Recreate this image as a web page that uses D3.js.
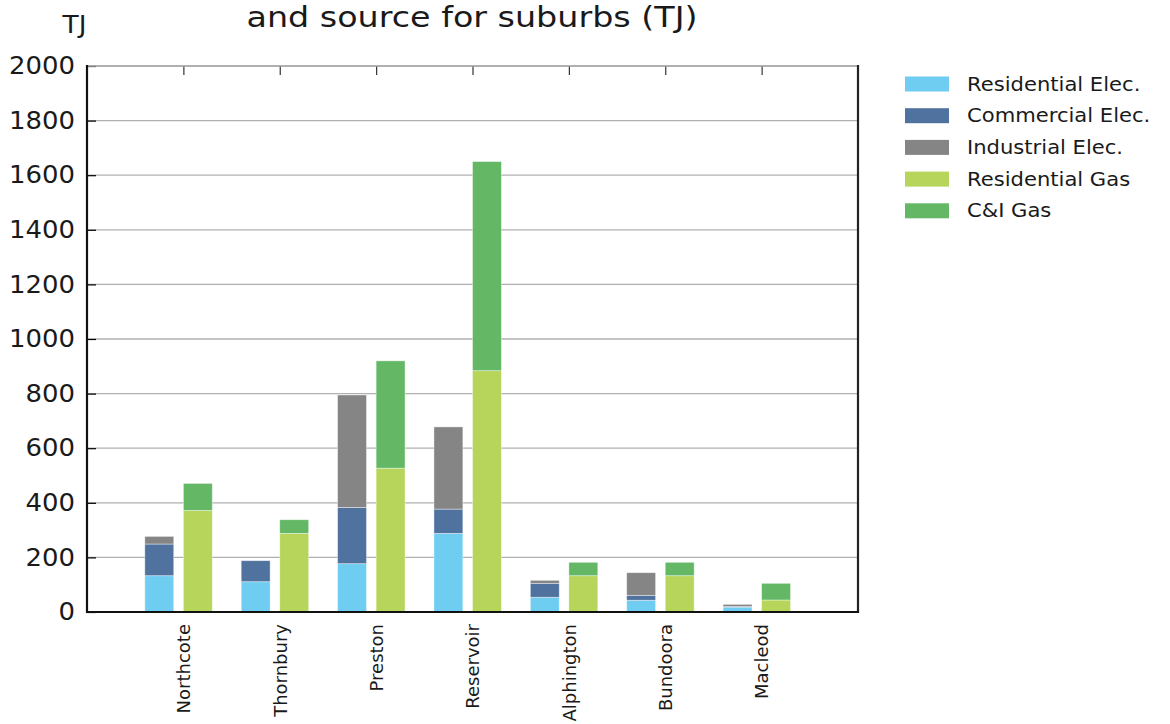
<!DOCTYPE html>
<html>
<head>
<meta charset="utf-8">
<script src="https://cdn.jsdelivr.net/npm/d3@7/dist/d3.min.js"></script>
<style>
  html, body { margin: 0; padding: 0; background: #fff; }
  svg { display: block; font-family: "DejaVu Sans", sans-serif; }
</style>
</head>
<body>
<svg id="chart" width="1170" height="724"></svg>
<script>
const categories = ["Northcote","Thornbury","Preston","Reservoir","Alphington","Bundoora","Macleod"];
const resElec = [133, 111, 177, 288, 54, 43, 18];
const comElec = [116, 77, 206, 89, 51, 18, 2];
const indElec = [28, 0, 412, 301, 11, 83, 8];
const resGas  = [372, 288, 527, 884, 133, 133, 44];
const ciGas   = [99, 50, 393, 766, 49, 49, 61];
const yTicks  = [0, 200, 400, 600, 800, 1000, 1200, 1400, 1600, 1800, 2000];
const seriesNames = ["Residential Elec.", "Commercial Elec.", "Industrial Elec.", "Residential Gas", "C&I Gas"];
const seriesColors = ["#70cdf2", "#50729f", "#858585", "#b6d55a", "#63b765"];

const svg = d3.select("#chart");
const L = 87, R = 858, T = 66, B = 612;

const x = d3.scaleLinear().domain([0, 8]).range([L, R]);
const y = d3.scaleLinear().domain([0, 2000]).range([B, T]);
const barW = 0.3;

function stretch(sel, factor) {
  sel.each(function () {
    const w = this.getComputedTextLength();
    d3.select(this).attr("textLength", w * factor).attr("lengthAdjust", "spacingAndGlyphs");
  });
}

// grid lines
svg.append("g").selectAll("line").data(yTicks).join("line")
  .attr("x1", L).attr("x2", R)
  .attr("y1", d => y(d)).attr("y2", d => y(d))
  .attr("stroke", "#b0b0b0").attr("stroke-width", 1.3);

// bars
const elecStack = categories.map((c, i) => [resElec[i], comElec[i], indElec[i]]);
const gasStack = categories.map((c, i) => [resGas[i], ciGas[i]]);
const rects = [];
categories.forEach((c, i) => {
  let acc = 0;
  elecStack[i].forEach((v, k) => {
    rects.push({x0: i + 1 - 0.4, v0: acc, v1: acc + v, color: seriesColors[k]});
    acc += v;
  });
  acc = 0;
  gasStack[i].forEach((v, k) => {
    rects.push({x0: i + 1, v0: acc, v1: acc + v, color: seriesColors[3 + k]});
    acc += v;
  });
});
svg.append("g").selectAll("rect").data(rects.filter(r => r.v1 > r.v0)).join("rect")
  .attr("x", d => x(d.x0))
  .attr("width", d => x(d.x0 + barW) - x(d.x0))
  .attr("y", d => y(d.v1))
  .attr("height", d => y(d.v0) - y(d.v1))
  .attr("fill", d => d.color)
  .attr("stroke", "#ffffff").attr("stroke-opacity", 0.5).attr("stroke-width", 0.8);

// y axis ticks (inward)
const yAxis = d3.axisLeft(y).tickValues(yTicks).tickFormat(d3.format("d"))
  .tickSizeInner(-9).tickSizeOuter(0).tickPadding(12);
const gy = svg.append("g").attr("transform", `translate(${L},0)`).call(yAxis);
gy.select(".domain").remove();
gy.selectAll(".tick line").attr("stroke", "#000").attr("stroke-width", 1.2);
gy.selectAll(".tick text").attr("font-family", "DejaVu Sans").attr("font-size", 24).attr("fill", "#1a1a1a");
stretch(gy.selectAll(".tick text"), 1.08);

// top ticks (inward)
const xt = d3.range(1, 8);
const xTop = d3.axisTop(x).tickValues(xt).tickSizeInner(-9).tickSizeOuter(0).tickFormat("");
const gxt = svg.append("g").attr("transform", `translate(0,${T})`).call(xTop);
gxt.select(".domain").remove();
gxt.selectAll(".tick line").attr("stroke", "#333").attr("stroke-width", 1.2);

// bottom labels
const xBot = d3.axisBottom(x).tickValues(xt).tickSize(0).tickFormat(d => categories[d - 1]);
const gxb = svg.append("g").attr("transform", `translate(0,${B})`).call(xBot);
gxb.select(".domain").remove();
gxb.selectAll(".tick text")
  .attr("font-family", "DejaVu Sans").attr("font-size", 18).attr("fill", "#1a1a1a")
  .attr("transform", "rotate(-90)")
  .attr("text-anchor", "end")
  .attr("x", -12).attr("y", 0).attr("dy", "0.35em");

// spines
svg.append("line").attr("x1", L).attr("x2", R).attr("y1", T).attr("y2", T)
  .attr("stroke", "#aaaaaa").attr("stroke-width", 1.5);
svg.append("line").attr("x1", L).attr("x2", L).attr("y1", T - 1).attr("y2", B + 1)
  .attr("stroke", "#111").attr("stroke-width", 2.2);
svg.append("line").attr("x1", R).attr("x2", R).attr("y1", T - 1).attr("y2", B + 1)
  .attr("stroke", "#222").attr("stroke-width", 2.2);
svg.append("line").attr("x1", L - 1).attr("x2", R + 1).attr("y1", B).attr("y2", B)
  .attr("stroke", "#111").attr("stroke-width", 2.2);

// title (visible second line)
const title = svg.append("text").attr("x", 472).attr("y", 27).attr("text-anchor", "middle")
  .attr("font-size", 29).attr("fill", "#1a1a1a")
  .text("and source for suburbs (TJ)");
title.attr("textLength", 451).attr("lengthAdjust", "spacingAndGlyphs");

// unit label
const tj = svg.append("text").attr("x", 74.5).attr("y", 33).attr("text-anchor", "middle")
  .attr("font-size", 24).attr("fill", "#1a1a1a").text("TJ");
stretch(tj, 1.1);

// legend
const lg = svg.append("g");
seriesNames.forEach((n, i) => {
  const cy = 84 + i * 31.7;
  lg.append("rect").attr("x", 905).attr("y", cy - 7.5).attr("width", 44).attr("height", 15)
    .attr("fill", seriesColors[i]);
  const t = lg.append("text").attr("x", 967).attr("y", cy).attr("dy", "0.35em")
    .attr("font-size", 19).attr("fill", "#1a1a1a").text(n);
  stretch(t, 1.11);
});
</script>
</body>
</html>
